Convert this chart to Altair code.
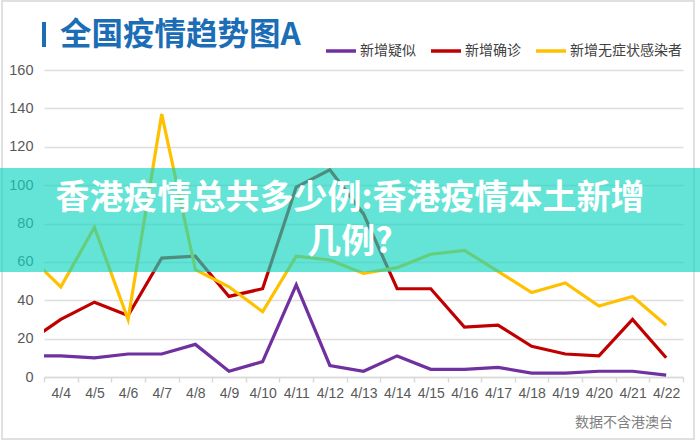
import altair as alt
import pandas as pd

# ---- data ----
days = list(range(3, 23))  # April 3 .. April 22 (4/3 only partly visible at the left edge)
suspected = [11, 11, 10, 12, 12, 17, 3, 8, 48, 6, 3, 11, 4, 4, 5, 2, 2, 3, 3, 1]
confirmed = [18, 30, 39, 32, 62, 63, 42, 46, 99, 108, 85, 46, 46, 26, 27, 16, 12, 11, 30, 10]
asymptomatic = [64, 47, 78, 30, 137, 56, 47, 34, 63, 61, 54, 57, 64, 66, 55, 44, 49, 37, 42, 27]

series_names = ["新增疑似", "新增确诊", "新增无症状感染者"]
series_colors = ["#7030a0", "#c00000", "#ffc000"]
y_ticks = [0, 20, 40, 60, 80, 100, 120, 140, 160]
label_days = list(range(4, 23))
tick_edges = [d - 0.5 for d in range(4, 24)]

TITLE = "全国疫情趋势图A"
BANNER_1 = "香港疫情总共多少例:香港疫情本土新增"
BANNER_2 = "几例?"
NOTE = "数据不含港澳台"

rows = []
for name, vals in zip(series_names, [suspected, confirmed, asymptomatic]):
    for d, v in zip(days, vals):
        rows.append({"day": d, "value": v, "series": name})
df = pd.DataFrame(rows)

W, H = 639, 307
FONT_CJK = "Noto Sans CJK SC"
FONT_NUM = "Liberation Sans"

axis_values = sorted(tick_edges + label_days)

x_axis = alt.Axis(
    values=axis_values,
    labelExpr="datum.value % 1 === 0 ? '4/' + datum.value : ''",
    tickOpacity={"condition": {"test": "datum.value % 1 === 0", "value": 0}, "value": 1},
    grid=False,
    title=None,
    domainColor="#d9d9d9",
    domainWidth=1.5,
    tickColor="#d9d9d9",
    tickWidth=1.5,
    tickSize=5,
    labelPadding=4,
    labelFontSize=14,
    labelFont=FONT_NUM,
    labelColor="#595959",
    labelOverlap=False,
    labelFlush=False,
    labelBound=False,
)

y_axis = alt.Axis(
    values=y_ticks,
    title=None,
    domain=False,
    ticks=False,
    grid=True,
    gridColor="#dedede",
    gridWidth=1.5,
    labelPadding=11,
    labelFontSize=14.5,
    labelFont=FONT_NUM,
    labelColor="#595959",
)

lines = alt.Chart(df).mark_line(strokeWidth=3.2, clip=True, strokeJoin="miter").encode(
    x=alt.X("day:Q", scale=alt.Scale(domain=[3.5, 22.5], nice=False, zero=False), axis=x_axis),
    y=alt.Y("value:Q", scale=alt.Scale(domain=[0, 160], nice=False), axis=y_axis),
    color=alt.Color(
        "series:N",
        scale=alt.Scale(domain=series_names, range=series_colors),
        sort=series_names,
        legend=alt.Legend(
            title=None,
            orient="none",
            direction="horizontal",
            legendX=280,
            legendY=-36,
            symbolType="stroke",
            symbolSize=900,
            symbolStrokeWidth=3.5,
            labelOffset=2,
            columnPadding=8,
            labelFont=FONT_CJK,
            labelFontSize=14,
            labelColor="#404040",
        ),
    ),
    order="day:Q",
)

one = lambda txt: pd.DataFrame({"t": [txt]})

border = alt.Chart(one("")).mark_rect(
    fillOpacity=0, stroke="#d6d6d6", strokeWidth=1.5
).encode(x=alt.value(-42), x2=alt.value(650), y=alt.value(-69), y2=alt.value(369))

title_bar = alt.Chart(one("")).mark_rect(color="#1b6db5").encode(
    x=alt.value(-2), x2=alt.value(2), y=alt.value(-48), y2=alt.value(-23)
)

title_text = alt.Chart(one(TITLE)).mark_text(
    font=FONT_CJK, fontSize=31.5, fontWeight="bold", color="#1b6db5",
    align="left", baseline="middle",
).encode(text="t:N", x=alt.value(16), y=alt.value(-34))

banner = alt.Chart(one("")).mark_rect(color="rgb(18,214,192)", opacity=0.655).encode(
    x=alt.value(-44), x2=alt.value(656), y=alt.value(98), y2=alt.value(202)
)

banner_1 = alt.Chart(one(BANNER_1)).mark_text(
    font=FONT_CJK, fontSize=34, fontWeight="bold", color="white",
    align="center", baseline="middle",
).encode(text="t:N", x=alt.value(306), y=alt.value(129))

banner_2 = alt.Chart(one(BANNER_2)).mark_text(
    font=FONT_CJK, fontSize=34, fontWeight="bold", color="white",
    align="center", baseline="middle",
).encode(text="t:N", x=alt.value(306), y=alt.value(173))

note = alt.Chart(one(NOTE)).mark_text(
    font=FONT_CJK, fontSize=14, color="#808080", align="right", baseline="middle",
).encode(text="t:N", x=alt.value(629), y=alt.value(353))

chart = alt.layer(
    lines, border, title_bar, title_text, banner, banner_1, banner_2, note
).properties(
    width=W, height=H,
    autosize=alt.AutoSizeParams(type="none"),
    padding={"left": 44, "top": 70, "right": 17, "bottom": 63},
    background="white",
).configure_view(stroke=None)

chart.save("out.html", embed_options={"renderer": "svg", "actions": False})
